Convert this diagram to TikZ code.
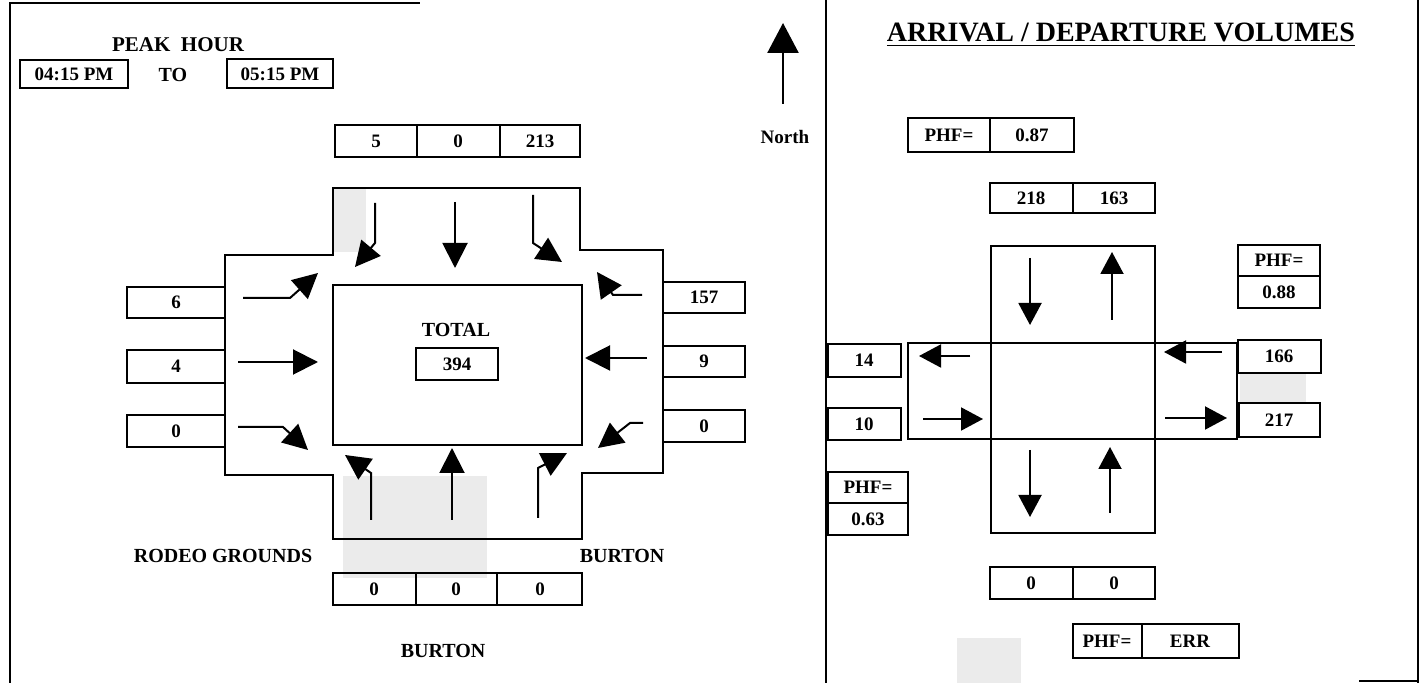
\documentclass[tikz,border=0pt]{standalone}
\usepackage{fontspec}
\setmainfont{Liberation Serif}
\usetikzlibrary{arrows.meta}
\begin{document}
\begin{tikzpicture}[x=0.5pt,y=-0.5pt,
  frame/.style={line width=0.9pt},
  cell/.style={line width=0.75pt},
  road/.style={line width=0.8pt},
  rbox/.style={line width=1.1pt},
  num/.style={font=\fontsize{9.5}{11}\selectfont\bfseries, inner sep=0pt},
  lbl/.style={font=\fontsize{10}{12}\selectfont\bfseries, inner sep=0pt},
  arrL/.style={line width=1pt, -{Triangle[length=12.5pt,width=12.5pt]}},
  arrR/.style={line width=1pt, -{Triangle[length=11pt,width=11.5pt]}},
  shade/.style={fill=black!8, draw=none}]
\useasboundingbox (0,0) rectangle (1424,683);
% scan shading
\fill[shade] (333,188) rectangle (366,252);
\fill[shade] (343,476) rectangle (487,578);
\fill[shade] (1240,374) rectangle (1306,402);
\fill[shade] (957,638) rectangle (1021,683);
% frame
\draw[frame] (10,683) -- (10,3) -- (420,3);
\draw[frame] (826,0) -- (826,683);
\draw[frame] (1418,0) -- (1418,683);
\draw[frame] (1359,681) -- (1418,681);
% peak hour
\node[lbl, font=\fontsize{10.5}{12}\selectfont\bfseries] (peak) at (178,45) {PEAK\ \ HOUR};
\draw[cell] (20,60) rectangle (128,88);
\node[num] (t1) at (74,74) {04:15 PM};
\node[lbl] (to) at (173,75) {TO};
\draw[cell] (227,59) rectangle (333,88);
\node[num] (t2) at (280,74) {05:15 PM};
% north arrow
\draw[line width=1.2pt, -{Triangle[length=15pt,width=15.5pt]}] (783,104) -- (783,23);
\node[num] (north) at (785,137) {North};
% top volumes
\draw[cell] (335,125) rectangle (580,157);
\draw[cell] (417,125) -- (417,157) (500,125) -- (500,157);
\node[num] (nb1) at (376,141) {5};
\node[num] (nb2) at (458,141) {0};
\node[num] (nb3) at (540,141) {213};
% bottom volumes
\draw[cell] (333,573) rectangle (582,605);
\draw[cell] (416,573) -- (416,605) (497,573) -- (497,605);
\node[num] (sb1) at (374,589) {0};
\node[num] (sb2) at (456,589) {0};
\node[num] (sb3) at (540,589) {0};
% left volumes
\draw[cell] (127,287) rectangle (225,318);
\draw[cell] (127,350) rectangle (225,383);
\draw[cell] (127,415) rectangle (225,447);
\node[num] (wb1) at (176,302) {6};
\node[num] (wb2) at (176,366) {4};
\node[num] (wb3) at (176,431) {0};
% right volumes
\draw[cell] (663,282) rectangle (745,313);
\draw[cell] (663,346) rectangle (745,377);
\draw[cell] (663,410) rectangle (745,442);
\node[num] (eb1) at (704,297) {157};
\node[num] (eb2) at (704,361) {9};
\node[num] (eb3) at (704,426) {0};
% intersection outline
\draw[road] (225,255) -- (333,255) -- (333,188) -- (580,188) -- (580,250) -- (663,250)
  -- (663,473) -- (582,473) -- (582,539) -- (333,539) -- (333,475) -- (225,475) -- cycle;
\draw[road] (333,285) rectangle (582,445);
\node[lbl] (total) at (456,330) {TOTAL};
\draw[cell] (416,348) rectangle (498,380);
\node[num] (tot) at (457,364) {394};
% southbound movements
\draw[arrL] (375,203) -- (375,243) -- (355,267);
\draw[arrL] (455,202) -- (455,268);
\draw[arrL] (533,195) -- (533,243) -- (562,262);
% eastbound movements
\draw[arrL] (243,298) -- (290,298) -- (318,273);
\draw[arrL] (238,362) -- (318,362);
\draw[arrL] (238,427) -- (283,427) -- (308,450);
% westbound movements
\draw[arrL] (642,295) -- (613,295) -- (597,272);
\draw[arrL] (647,358) -- (585,358);
\draw[arrL] (643,423) -- (630,423) -- (598,448);
% northbound movements
\draw[arrL] (371,520) -- (371,473) -- (345,455);
\draw[arrL] (452,520) -- (452,448);
\draw[arrL] (538,518) -- (538,468) -- (567,453);
% street names
\node[lbl] (rodeo) at (223,556) {RODEO GROUNDS};
\node[lbl] (burtonE) at (622,556) {BURTON};
\node[lbl] (burtonS) at (443,651) {BURTON};
% ---------------- right panel
\node[font=\fontsize{14}{16}\selectfont\bfseries, inner sep=0pt, anchor=base] (title) at (1121,42) {\underline{ARRIVAL / DEPARTURE VOLUMES}};
\draw[cell] (908,118) rectangle (1074,152);
\draw[cell] (990,118) -- (990,152);
\node[num] (phfn) at (949,135) {PHF=};
\node[num] (phfnv) at (1032,135) {0.87};
\draw[cell] (990,183) rectangle (1155,213);
\draw[cell] (1073,183) -- (1073,213);
\node[num] (nin) at (1031,198) {218};
\node[num] (nout) at (1114,198) {163};
% approach boxes
\draw[rbox] (991,246) rectangle (1155,343);
\draw[rbox] (991,343) rectangle (1155,439);
\draw[rbox] (991,439) rectangle (1155,533);
\draw[rbox] (908,343) rectangle (991,439);
\draw[rbox] (1155,343) rectangle (1237,439);
% arrows
\draw[arrR] (1030,258) -- (1030,325);
\draw[arrR] (1112,320) -- (1112,252);
\draw[arrR] (1030,450) -- (1030,517);
\draw[arrR] (1110,513) -- (1110,447);
\draw[arrR] (970,356) -- (919,356);
\draw[arrR] (923,419) -- (983,419);
\draw[arrR] (1222,352) -- (1164,352);
\draw[arrR] (1165,418) -- (1227,418);
% east side boxes
\draw[cell] (1238,245) rectangle (1320,276);
\draw[cell] (1238,276) rectangle (1320,308);
\node[num] (phfe) at (1279,260) {PHF=};
\node[num] (phfev) at (1279,292) {0.88};
\draw[cell] (1238,340) rectangle (1321,373);
\node[num] (ein) at (1279,356) {166};
\draw[cell] (1239,403) rectangle (1320,437);
\node[num] (eout) at (1279,420) {217};
% west side boxes
\draw[cell] (828,344) rectangle (901,377);
\node[num] (wout) at (864,360) {14};
\draw[cell] (828,408) rectangle (901,440);
\node[num] (win) at (864,424) {10};
\draw[cell] (828,472) rectangle (908,503);
\draw[cell] (828,503) rectangle (908,535);
\node[num] (phfw) at (868,487) {PHF=};
\node[num] (phfwv) at (868,519) {0.63};
% south boxes
\draw[cell] (990,567) rectangle (1155,599);
\draw[cell] (1073,567) -- (1073,599);
\node[num] (sout) at (1031,583) {0};
\node[num] (sin) at (1114,583) {0};
\draw[cell] (1073,624) rectangle (1239,658);
\draw[cell] (1142,624) -- (1142,658);
\node[num] (phfs) at (1107,641) {PHF=};
\node[num] (phfsv) at (1190,641) {ERR};
\end{tikzpicture}
\end{document}
